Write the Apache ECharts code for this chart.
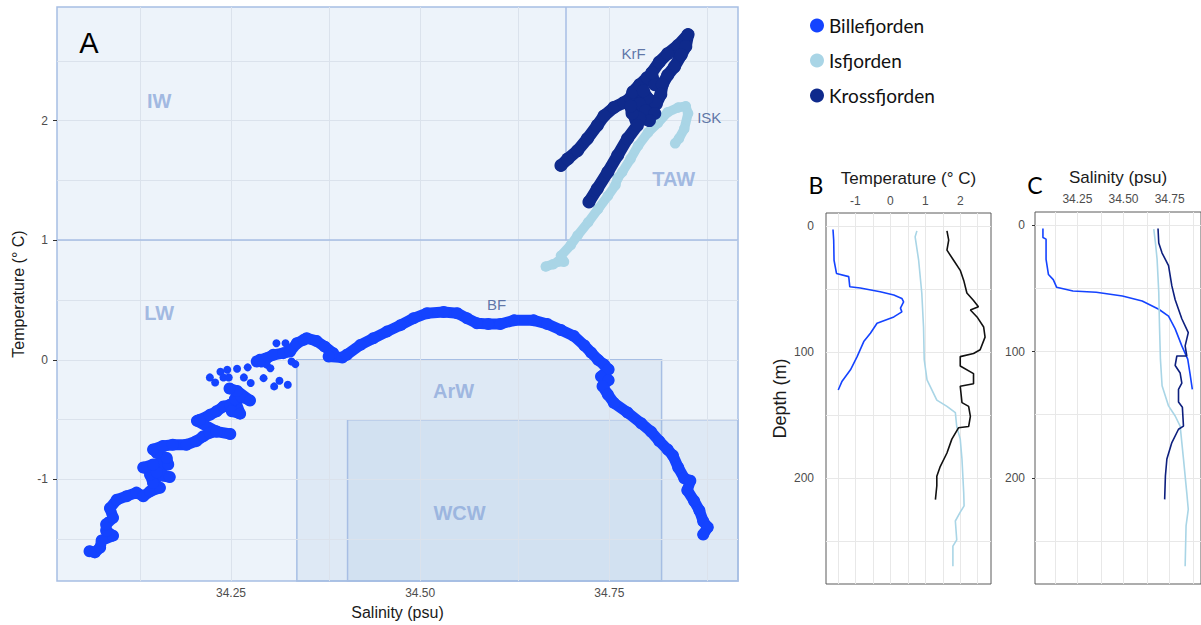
<!DOCTYPE html>
<html>
<head>
<meta charset="utf-8">
<title>T-S diagram and profiles</title>
<script src="https://cdn.jsdelivr.net/npm/echarts@6/dist/echarts.min.js"></script>
<style>
  html, body { margin: 0; padding: 0; background: #ffffff; }
  #chart { width: 1201px; height: 625px; }
</style>
</head>
<body>
<div id="chart"></div>
<script>
// ---------- Panel A: temperature–salinity pairs (salinity psu, temperature °C) ----------
const billeLower = [
  [34.063,-1.60],[34.070,-1.61],[34.077,-1.57],[34.079,-1.51],[34.094,-1.47],[34.085,-1.43],
  [34.085,-1.375],[34.094,-1.32],[34.090,-1.24],[34.099,-1.17],[34.112,-1.14],[34.125,-1.11],
  [34.134,-1.14],[34.143,-1.10],[34.156,-1.07],[34.147,-1.03],[34.143,-0.96],[34.169,-0.98],
  [34.152,-0.94],[34.134,-0.90],[34.147,-0.875],[34.167,-0.875],[34.165,-0.82],[34.152,-0.78],
  [34.147,-0.75],[34.160,-0.72],[34.173,-0.71],[34.191,-0.71],[34.204,-0.68],[34.213,-0.64],
  [34.222,-0.61],[34.231,-0.60],[34.249,-0.62],[34.231,-0.60],[34.205,-0.51],[34.209,-0.50],
  [34.222,-0.46],[34.231,-0.43],[34.240,-0.39],[34.249,-0.375],[34.251,-0.43],[34.262,-0.45],
  [34.255,-0.33],[34.264,-0.31],[34.275,-0.34],[34.258,-0.26],[34.248,-0.24]
];
const billeUpper = [
  [34.284,-0.014],[34.288,0.0],[34.297,0.014],[34.306,0.042],[34.319,0.056],[34.328,0.07],
  [34.337,0.139],[34.346,0.167],[34.350,0.18],[34.363,0.158],[34.374,0.11],[34.385,0.056],
  [34.379,0.028],[34.397,0.02],[34.403,0.042],[34.421,0.125],[34.438,0.18],[34.456,0.236],
  [34.474,0.29],[34.491,0.347],[34.509,0.39],[34.531,0.40],[34.549,0.39],[34.562,0.347],
  [34.575,0.306],[34.590,0.30],[34.606,0.30],[34.624,0.33],[34.650,0.33],[34.668,0.30],
  [34.686,0.25],[34.703,0.20],[34.717,0.12],[34.726,0.06],[34.735,0.00],[34.743,-0.04],
  [34.749,-0.08],[34.739,-0.14],[34.749,-0.17],[34.741,-0.22],[34.748,-0.29],[34.756,-0.36],
  [34.774,-0.44],[34.792,-0.53],[34.805,-0.60],[34.816,-0.68],[34.827,-0.75],[34.834,-0.80],
  [34.841,-0.90],[34.849,-0.99],[34.857,-1.01],[34.853,-1.09],[34.862,-1.18],[34.869,-1.26],
  [34.874,-1.35],[34.880,-1.40],[34.874,-1.46]
];
const billeDots = [
  [34.222,-0.147],[34.229,-0.19],[34.236,-0.10],[34.245,-0.083],[34.240,-0.147],[34.247,-0.147],
  [34.258,-0.075],[34.272,-0.063],[34.267,-0.147],[34.276,-0.194],[34.293,-0.153],[34.307,-0.222],
  [34.314,-0.175],[34.325,-0.208],[34.297,-0.04],[34.302,-0.07],[34.330,-0.014],[34.335,-0.036],
  [34.310,0.139],[34.322,0.139],[34.290,-0.03]
];
const isfjTS = [
  [34.666,0.78],[34.676,0.80],[34.682,0.82],[34.690,0.82],[34.686,0.87],[34.699,0.96],
  [34.708,1.04],[34.722,1.15],[34.735,1.26],[34.748,1.37],[34.758,1.46],[34.761,1.52],
  [34.767,1.57],[34.778,1.68],[34.788,1.79],[34.801,1.90],[34.814,1.98],[34.827,2.07],
  [34.841,2.11],[34.851,2.12],[34.854,2.06],[34.849,1.93],[34.842,1.85],[34.837,1.81]
];
const krossTS = [
  [34.686,1.625],[34.695,1.68],[34.708,1.75],[34.721,1.85],[34.734,1.96],[34.743,2.04],
  [34.756,2.11],[34.769,2.15],[34.778,2.19],[34.781,2.24],[34.790,2.30],[34.800,2.36],
  [34.810,2.30],[34.806,2.40],[34.816,2.49],[34.827,2.56],[34.841,2.63],[34.854,2.72],
  [34.851,2.62],[34.845,2.55],[34.836,2.45],[34.827,2.38],[34.820,2.30],[34.818,2.22],
  [34.812,2.14],[34.800,2.19],[34.795,2.25],[34.790,2.14],[34.798,2.08],[34.810,2.06],
  [34.803,2.00],[34.790,2.02],[34.780,2.06],[34.778,2.12],[34.787,1.96],[34.774,1.85],
  [34.761,1.71],[34.748,1.57],[34.734,1.43],[34.723,1.32]
];

// ---------- Panel B: temperature profiles [°C, depth m] ----------
const billeTemp = [
  [-1.64,2.6],[-1.62,11],[-1.61,27],[-1.54,37.5],[-1.19,40],[-1.16,48],[-0.86,49],[-0.29,52],
  [0.10,54.6],[0.33,57.3],[0.38,60],[0.29,65],[0.33,68],[0.10,72],[-0.38,77],[-0.57,85],
  [-0.76,91.6],[-0.95,103.5],[-1.14,114],[-1.38,123],[-1.49,130]
];
const isfjTemp = [
  [0.76,3.7],[0.71,8.4],[0.81,27],[0.90,53],[0.95,80],[0.97,106],[1.05,122],[1.33,138],
  [1.62,143],[1.86,148],[1.90,159],[2.00,169],[2.05,185],[2.10,212],[2.11,222],[2.00,227],
  [1.86,234],[1.90,249],[1.79,254],[1.79,270]
];
const krossTemp = [
  [1.62,3.7],[1.67,11],[1.62,19],[1.81,27],[2.00,35],[2.10,43],[2.19,53],[2.38,59],[2.52,64],
  [2.29,66.5],[2.48,72],[2.67,80],[2.71,88],[2.57,98],[2.38,101],[2.00,103.5],[2.00,111],
  [2.38,117],[2.38,125],[2.00,127],[2.05,140],[2.24,143],[2.29,151],[2.24,159],[1.95,160],
  [1.76,169],[1.62,180],[1.43,190.6],[1.33,198.5],[1.33,206],[1.29,217]
];

// ---------- Panel C: salinity profiles [psu, depth m] ----------
const billeSal = [
  [34.063,2.6],[34.063,9.7],[34.080,11],[34.080,27],[34.093,39],[34.119,43],[34.137,49],
  [34.226,52],[34.352,53],[34.494,56],[34.601,60],[34.691,66.5],[34.744,72],[34.780,82],
  [34.816,95.5],[34.848,106],[34.860,117],[34.873,130]
];
const isfjSal = [
  [34.664,3],[34.673,14],[34.682,27],[34.691,53],[34.695,80],[34.700,106],[34.709,127],
  [34.744,143],[34.780,151],[34.807,159],[34.825,185],[34.843,212],[34.851,225],[34.839,238],
  [34.834,270]
];
const krossSal = [
  [34.687,2.6],[34.691,14],[34.709,22],[34.744,32],[34.762,48],[34.780,59],[34.798,66.5],
  [34.816,74],[34.851,85],[34.834,95.5],[34.843,103.5],[34.789,103.5],[34.780,111],[34.807,117],
  [34.816,125],[34.798,130],[34.798,140],[34.819,144],[34.825,159],[34.798,161.5],[34.762,172],
  [34.735,185],[34.727,198.5],[34.723,217]
];

// ---------- Water-mass definitions and annotations ----------
const salRange = [34.02, 34.92];
const tempRangeA = [-1.85, 2.95];
const tempRangeB = [-1.84, 2.88];
const depthRange = [-10.5, 284];
const tawSalMin = 34.692;      // TAW lower salinity bound (T > 1)
const warmTempMin = 1;         // IW / TAW lower temperature bound
const arwBox = [34.337, 34.819, 0];      // salinity min, salinity max, temperature max
const wcwBox = [34.404, -0.5];           // salinity min, temperature max
const waterMassNames = [['IW',34.155,2.16],['LW',34.155,0.39],['ArW',34.544,-0.26],['WCW',34.552,-1.28],['TAW',34.835,1.51]];
const siteNames = [['KrF',34.782,2.56],['ISK',34.882,2.03],['BF',34.601,0.46]];

// ---------- Ticks and grid positions ----------
const salTicks = [34.25, 34.5, 34.75];
const salGrid = [34.125, 34.25, 34.375, 34.5, 34.625, 34.75, 34.875];
const tempTicksA = [-1, 0, 1, 2];
const tempGridA = [-1.5, -1, -0.5, 0, 0.5, 1, 1.5, 2, 2.5];
const tempTicksB = [-1, 0, 1, 2];
const tempGridB = [-1.5, -1, -0.5, 0, 0.5, 1, 1.5, 2, 2.5];
const depthTicks = [0, 100, 200];
const depthGrid = [0, 50, 100, 150, 200, 250];

const C_BILLE = '#1443ff';
const C_ISFJ = '#a9d5e6';
const C_KROSS = '#0f2a8c';
const SANS = 'Liberation Sans, Arial, sans-serif';

const chart = echarts.init(document.getElementById('chart'), null, { renderer: 'svg' });

function gridLines(xs, ys, color, width) {
  return {
    silent: true, symbol: ['none', 'none'], animation: false,
    label: { show: false },
    lineStyle: { color: color, width: width, type: 'solid' },
    emphasis: { disabled: true },
    data: xs.map(v => ({ xAxis: v })).concat(ys.map(v => ({ yAxis: v })))
  };
}

function valueAxis(idx, range, ticks, extra) {
  return Object.assign({
    type: 'value', gridIndex: idx, min: range[0], max: range[1],
    splitLine: { show: false },
    axisLine: { show: false },
    axisTick: { show: true, customValues: ticks, length: 4, lineStyle: { color: '#333', width: 1 } },
    axisLabel: { customValues: ticks, color: '#4d4d4d', fontSize: 12, fontFamily: SANS }
  }, extra);
}

// thick trail of overlapping CTD samples
function trail(name, data, color, width) {
  return {
    name: name, type: 'line', xAxisIndex: 0, yAxisIndex: 0, data: data,
    showSymbol: true, showAllSymbol: true, symbol: 'circle', symbolSize: width + 1, smooth: false,
    itemStyle: { color: color }, z: 5,
    lineStyle: { color: color, width: width, cap: 'round', join: 'round' },
    emphasis: { disabled: true }
  };
}

function profile(name, data, color, axis) {
  return {
    name: name, type: 'line', xAxisIndex: axis, yAxisIndex: axis, data: data,
    showSymbol: false, smooth: false, z: 5,
    itemStyle: { color: color },
    lineStyle: { color: color, width: 1.6 },
    emphasis: { disabled: true }
  };
}

function textSeries(items, style) {
  return {
    type: 'scatter', xAxisIndex: 0, yAxisIndex: 0, symbolSize: 0, z: 6, silent: true,
    data: items.map(d => ({ value: [d[1], d[2]], name: d[0] })),
    label: Object.assign({ show: true, position: 'inside', formatter: p => p.name, fontFamily: SANS }, style),
    emphasis: { disabled: true }
  };
}

const option = {
  animation: false,
  textStyle: { fontFamily: SANS },
  legend: {
    data: ['Billefjorden', 'Isfjorden', 'Krossfjorden'],
    orient: 'vertical', left: 805, top: 11,
    icon: 'circle', itemWidth: 14, itemHeight: 14, itemGap: 16, itemTextGap: 9,
    selectedMode: false,
    textStyle: { fontSize: 19, color: '#111', fontFamily: 'Lato, sans-serif' }
  },
  grid: [
    { left: 57, top: 7, width: 681, height: 576, show: true, backgroundColor: '#edf3fa', borderColor: '#a7bee4', borderWidth: 1.5 },
    { left: 826, top: 213, width: 165, height: 371, show: true, backgroundColor: '#ffffff', borderColor: '#5a5a5a', borderWidth: 1 },
    { left: 1035, top: 212, width: 168, height: 372, show: true, backgroundColor: '#ffffff', borderColor: '#5a5a5a', borderWidth: 1 }
  ],
  xAxis: [
    valueAxis(0, salRange, salTicks, {
      name: 'Salinity (psu)', nameLocation: 'middle', nameGap: 22,
      nameTextStyle: { fontSize: 16, color: '#1a1a1a' },
      axisLabel: { customValues: salTicks, color: '#4d4d4d', fontSize: 12, margin: 6, formatter: v => v.toFixed(2) }
    }),
    valueAxis(1, tempRangeB, tempTicksB, {
      position: 'top',
      name: 'Temperature (° C)', nameLocation: 'middle', nameGap: 26,
      nameTextStyle: { fontSize: 17, color: '#1a1a1a' },
      axisTick: { show: true, customValues: tempTicksB, length: 3, lineStyle: { color: '#333' } },
      axisLabel: { customValues: tempTicksB, color: '#4d4d4d', fontSize: 12, margin: 6 }
    }),
    valueAxis(2, salRange, salTicks, {
      position: 'top',
      name: 'Salinity (psu)', nameLocation: 'middle', nameGap: 26,
      nameTextStyle: { fontSize: 17, color: '#1a1a1a' },
      axisTick: { show: true, customValues: salTicks, length: 3, lineStyle: { color: '#333' } },
      axisLabel: { customValues: salTicks, color: '#4d4d4d', fontSize: 12, margin: 7, formatter: v => v.toFixed(2) }
    })
  ],
  yAxis: [
    valueAxis(0, tempRangeA, tempTicksA, {
      name: 'Temperature (° C)', nameLocation: 'middle', nameGap: 28, nameRotate: 90,
      nameTextStyle: { fontSize: 16, color: '#1a1a1a' },
      axisLabel: { customValues: tempTicksA, color: '#4d4d4d', fontSize: 12, margin: 9 }
    }),
    valueAxis(1, depthRange, depthTicks, {
      inverse: true,
      name: 'Depth (m)', nameLocation: 'middle', nameGap: 37, nameRotate: 90,
      nameTextStyle: { fontSize: 18, color: '#1a1a1a' },
      axisTick: { show: true, customValues: depthTicks, length: 3, lineStyle: { color: '#333' } },
      axisLabel: { customValues: depthTicks, color: '#4d4d4d', fontSize: 12, margin: 12 }
    }),
    valueAxis(2, depthRange, depthTicks, {
      inverse: true,
      axisTick: { show: true, customValues: depthTicks, length: 3, lineStyle: { color: '#333' } },
      axisLabel: { customValues: depthTicks, color: '#4d4d4d', fontSize: 12, margin: 10 }
    })
  ],
  graphic: [
    { type: 'text', x: 89, y: 43, z: 10, style: { text: 'A', font: '29px "Liberation Sans", Arial, sans-serif', fill: '#000', textAlign: 'center', textVerticalAlign: 'middle', align: 'center', verticalAlign: 'middle' } },
    { type: 'text', x: 816, y: 185, z: 10, style: { text: 'B', font: '23px Lato, sans-serif', fill: '#000', textAlign: 'center', textVerticalAlign: 'middle', align: 'center', verticalAlign: 'middle' } },
    { type: 'text', x: 1035, y: 185, z: 10, style: { text: 'C', font: '23px Lato, sans-serif', fill: '#000', textAlign: 'center', textVerticalAlign: 'middle', align: 'center', verticalAlign: 'middle' } }
  ],
  series: [
    // panel A background grid, water-mass boxes and boundaries
    {
      type: 'line', xAxisIndex: 0, yAxisIndex: 0, data: [], z: 1, silent: true,
      markLine: gridLines(salGrid, tempGridA, '#dbe2ec', 1)
    },
    {
      type: 'line', xAxisIndex: 0, yAxisIndex: 0, data: [], z: 2, silent: true,
      markArea: {
        silent: true,
        itemStyle: { color: 'rgba(160,190,225,0.19)', borderColor: '#a7bee4', borderWidth: 1.5 },
        data: [
          [{ coord: [arwBox[0], arwBox[2]] }, { coord: [arwBox[1], tempRangeA[0]] }],
          [{ coord: [wcwBox[0], wcwBox[1]] }, { coord: [salRange[1], tempRangeA[0]] }]
        ]
      },
      markLine: {
        silent: true, symbol: ['none', 'none'], label: { show: false },
        lineStyle: { color: '#a7bee4', width: 1.5, type: 'solid' },
        data: [
          { yAxis: warmTempMin },
          [{ coord: [tawSalMin, warmTempMin] }, { coord: [tawSalMin, tempRangeA[1]] }]
        ]
      }
    },
    trail('Billefjorden', billeLower, C_BILLE, 11),
    trail('Billefjorden', billeUpper, C_BILLE, 11),
    {
      name: 'Billefjorden', type: 'scatter', xAxisIndex: 0, yAxisIndex: 0, data: billeDots,
      symbolSize: 8, itemStyle: { color: C_BILLE, opacity: 1 }, z: 5, emphasis: { disabled: true }
    },
    trail('Isfjorden', isfjTS, C_ISFJ, 9.5),
    trail('Krossfjorden', krossTS, C_KROSS, 12),
    textSeries(waterMassNames, { fontSize: 20, fontWeight: 'bold', color: '#8eaadb' }),
    textSeries(siteNames, { fontSize: 15, color: '#3a5592' }),

    // panel B
    {
      type: 'line', xAxisIndex: 1, yAxisIndex: 1, data: [], z: 1, silent: true,
      markLine: gridLines(tempGridB, depthGrid, '#e8e8e8', 1)
    },
    profile('Billefjorden temperature', billeTemp, C_BILLE, 1),
    profile('Isfjorden temperature', isfjTemp, C_ISFJ, 1),
    profile('Krossfjorden temperature', krossTemp, '#111111', 1),

    // panel C
    {
      type: 'line', xAxisIndex: 2, yAxisIndex: 2, data: [], z: 1, silent: true,
      markLine: gridLines(salGrid, depthGrid, '#e8e8e8', 1)
    },
    profile('Billefjorden salinity', billeSal, C_BILLE, 2),
    profile('Isfjorden salinity', isfjSal, C_ISFJ, 2),
    profile('Krossfjorden salinity', krossSal, '#0d1f7e', 2)
  ]
};

chart.setOption(option);
</script>
</body>
</html>
